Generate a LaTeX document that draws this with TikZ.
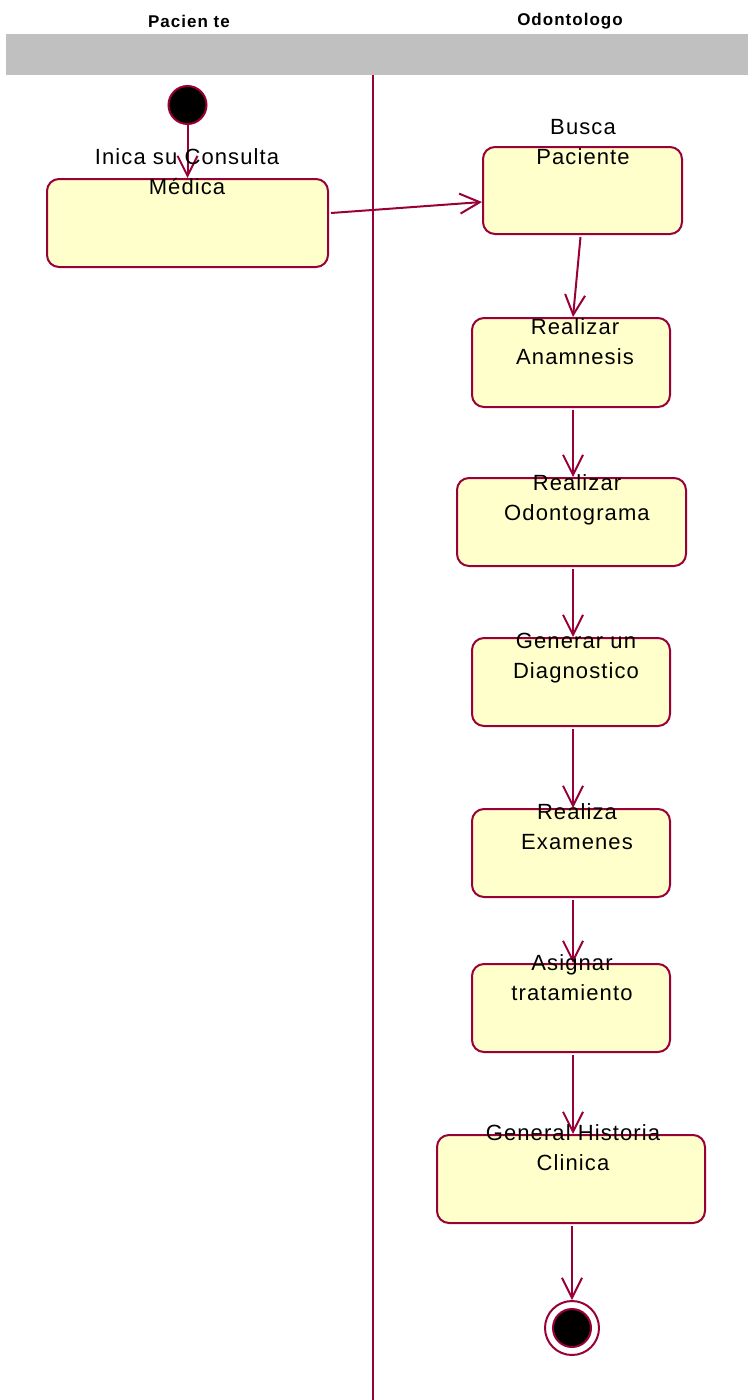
\documentclass[tikz,border=0pt]{standalone}
\usepackage{fontspec}
\setmainfont{Liberation Sans}
\newfontfamily\lblfont[LetterSpace=5]{Liberation Sans}
\newfontfamily\hdrfont[LetterSpace=6]{Liberation Sans}
\usetikzlibrary{arrows.meta}
\definecolor{umlline}{HTML}{990038}
\definecolor{umlfill}{HTML}{FFFFCC}
\definecolor{lanegray}{HTML}{C0C0C0}
\begin{document}
\begin{tikzpicture}[x=1pt,y=-1pt,
  actbox/.style={draw=umlline, fill=umlfill, line width=2pt, rounded corners=12pt,
    rectangle, inner sep=0pt},
  acttext/.style={font=\lblfont\fontsize{22}{30}\selectfont, align=center, inner sep=0pt},
  lanetitle/.style={font=\hdrfont\bfseries\fontsize{17}{18}\selectfont, inner sep=0pt},
  flow/.style={draw=umlline, line width=2pt,
    -{Straight Barb[length=20pt, width=20pt, line width=2pt]}},
  initial/.style={circle, fill=black, draw=umlline, line width=2pt, minimum size=38pt, inner sep=0pt},
  finalout/.style={circle, fill=white, draw=umlline, line width=2pt, minimum size=54pt, inner sep=0pt},
  finalin/.style={circle, fill=black, draw=umlline, line width=2pt, minimum size=38pt, inner sep=0pt}]
\useasboundingbox[fill=white] (0,0) rectangle (748,1400);

% swimlane header
\fill[lanegray] (6,34) rectangle (748,75);
\node[lanetitle] (hpac) at (189,21) {Pacien te};
\node[lanetitle] (hodo) at (570,21) {Odontologo};
\draw[umlline, line width=2pt] (373,75) coordinate (lanetop) -- (373,1400) coordinate (lanebot);

% activities
\node[actbox, minimum width=281pt, minimum height=88pt] (b1) at (187.5,223) {};
\node[actbox, minimum width=199pt, minimum height=87pt] (b2) at (582.5,190.5) {};
\node[actbox, minimum width=198pt, minimum height=89pt] (b3) at (571,362.5) {};
\node[actbox, minimum width=229pt, minimum height=88pt] (b4) at (571.5,522) {};
\node[actbox, minimum width=198pt, minimum height=88pt] (b5) at (571,682) {};
\node[actbox, minimum width=198pt, minimum height=88pt] (b6) at (571,853) {};
\node[actbox, minimum width=198pt, minimum height=88pt] (b7) at (571,1008) {};
\node[actbox, minimum width=268pt, minimum height=88pt] (b8) at (571,1179) {};

% initial and final states
\node[initial] (start) at (187.5,105) {};
\node[finalout] (endo) at (572,1328) {};
\node[finalin] (endi) at (572,1328) {};

% transitions
\draw[flow] (start.south) -- (b1.north);
\draw[flow] ([xshift=2pt,yshift=10pt]b1.east) -- ([yshift=-11.5pt]b2.west);
\draw[flow] ([xshift=-2pt,yshift=-2pt]b2.south) -- ([xshift=2pt]b3.north);
\draw[flow] ([xshift=2pt,yshift=-2pt]b3.south) -- ([xshift=1.5pt]b4.north);
\draw[flow] ([xshift=1.5pt,yshift=-2pt]b4.south) -- ([xshift=2pt]b5.north);
\draw[flow] ([xshift=2pt,yshift=-2pt]b5.south) -- ([xshift=2pt]b6.north);
\draw[flow] ([xshift=2pt,yshift=-2pt]b6.south) -- ([xshift=2pt]b7.north);
\draw[flow] ([xshift=2pt,yshift=-2pt]b7.south) -- ([xshift=2pt]b8.north);
\draw[flow] ([xshift=1pt,yshift=-2pt]b8.south) -- (endo.north);

% activity labels
\node[acttext] (t1) at (187,172) {Inica su Consulta\\Médica};
\node[acttext] (t2) at (583,142) {Busca\\Paciente};
\node[acttext] (t3) at (575,342) {Realizar\\Anamnesis};
\node[acttext] (t4) at (577,500) {Realizar\\Odontograma};
\node[acttext] (t5) at (576,658) {Generar un\\Diagnostico};
\node[acttext] (t6) at (577,827) {Realiza\\Examenes};
\node[acttext] (t7) at (572,978) {Asignar\\tratamiento};
\node[acttext] (t8) at (573,1148) {General Historia\\Clinica};
\end{tikzpicture}
\end{document}
